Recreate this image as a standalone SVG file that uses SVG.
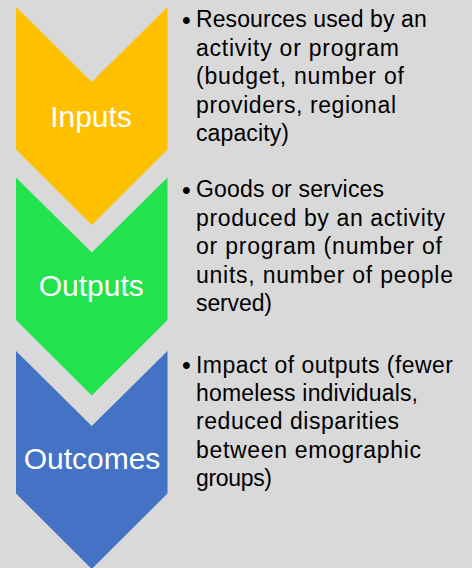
<svg xmlns="http://www.w3.org/2000/svg" width="472" height="568" viewBox="0 0 472 568">
  <style>
    .bg { fill: #d9d9d9; }
    .label { font-family: "Liberation Sans", Arial, sans-serif; font-size: 30px; fill: #ffffff; text-anchor: middle; }
    .desc { font-family: "Liberation Sans", Arial, sans-serif; font-size: 23px; fill: #000000; }
    .bullet { font-family: "Liberation Sans", Arial, sans-serif; font-size: 25px; fill: #000000; }
  </style>
  <defs>
    <!-- downward chevron, top edge at y=0 -->
    <polygon id="chevron" points="16,0 91.75,75 167.5,0 167.5,142.5 91.75,218 16,142.5"/>
  </defs>

  <rect class="bg" x="0" y="0" width="472" height="568"/>

  <g id="inputs">
    <use href="#chevron" x="0" y="7" fill="#ffc000"/>
    <text class="label" x="91" y="126.5">Inputs</text>
  </g>

  <g id="outputs">
    <use href="#chevron" x="0" y="177.5" fill="#22e24e"/>
    <text class="label" x="91.3" y="296">Outputs</text>
  </g>

  <g id="outcomes">
    <use href="#chevron" x="0" y="351" fill="#4472c4"/>
    <text class="label" x="92" y="468.5">Outcomes</text>
  </g>

  <g id="inputs-desc">
    <text class="bullet" x="182" y="29">•</text>
    <text class="desc" x="196" y="27.3" textLength="230.7" lengthAdjust="spacing">Resources used by an</text>
    <text class="desc" x="196" y="55.8" textLength="203" lengthAdjust="spacing">activity or program</text>
    <text class="desc" x="196" y="84.3" textLength="208" lengthAdjust="spacing">(budget, number of</text>
    <text class="desc" x="196" y="112.8" textLength="200" lengthAdjust="spacing">providers, regional</text>
    <text class="desc" x="196" y="141.3" textLength="93" lengthAdjust="spacing">capacity)</text>
  </g>

  <g id="outputs-desc">
    <text class="bullet" x="182" y="199">•</text>
    <text class="desc" x="196" y="197.3" textLength="188" lengthAdjust="spacing">Goods or services</text>
    <text class="desc" x="196" y="226" textLength="249" lengthAdjust="spacing">produced by an activity</text>
    <text class="desc" x="196" y="254.3" textLength="246" lengthAdjust="spacing">or program (number of</text>
    <text class="desc" x="196" y="283" textLength="257" lengthAdjust="spacing">units, number of people</text>
    <text class="desc" x="196" y="311.3" textLength="76" lengthAdjust="spacing">served)</text>
  </g>

  <g id="outcomes-desc">
    <text class="bullet" x="182" y="374.4">•</text>
    <text class="desc" x="196" y="372.7" textLength="257" lengthAdjust="spacing">Impact of outputs (fewer</text>
    <text class="desc" x="196" y="401" textLength="222" lengthAdjust="spacing">homeless individuals,</text>
    <text class="desc" x="196" y="429.3" textLength="203" lengthAdjust="spacing">reduced disparities</text>
    <text class="desc" x="196" y="457.7" textLength="225" lengthAdjust="spacing">between emographic</text>
    <text class="desc" x="196" y="486" textLength="76" lengthAdjust="spacing">groups)</text>
  </g>
</svg>
